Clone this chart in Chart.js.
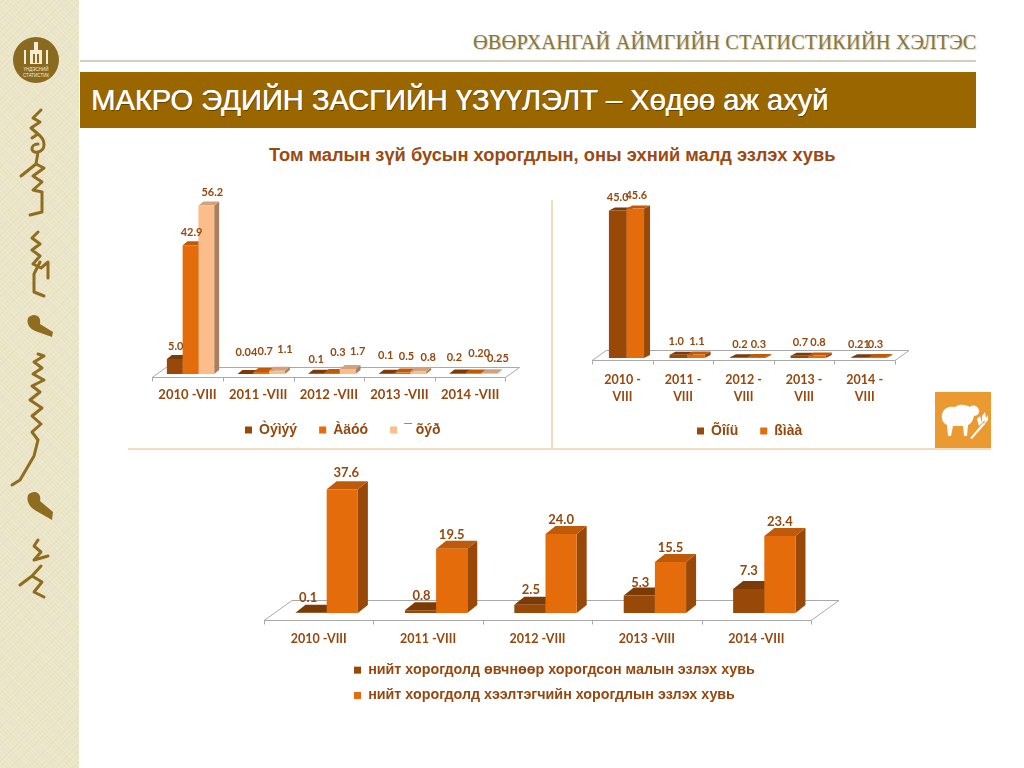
<!DOCTYPE html>
<html><head><meta charset="utf-8">
<script src="https://cdn.jsdelivr.net/npm/chart.js@4"></script>
<style>
html,body{margin:0;padding:0;background:#fff;width:1024px;height:768px;overflow:hidden;font-family:"Liberation Sans",Arial,sans-serif}
.abs{position:absolute}
#strip{left:0;top:0;width:79px;height:768px;background-color:#ebe5c8;
background-image:repeating-linear-gradient(45deg,rgba(255,255,255,.14) 0 1px,transparent 1px 3px),repeating-linear-gradient(-45deg,rgba(150,130,70,.05) 0 1px,transparent 1px 4px)}
#org{left:473px;top:31px;width:503px;font:20.3px "Liberation Serif",serif;color:#857644;white-space:nowrap;text-shadow:1px 1px 1px #cfc9ae;letter-spacing:.2px}
#rule{left:80px;top:60px;width:896px;height:2px;background:#d2cfbd}
#banner{left:80px;top:72px;width:896px;height:56px;background:#996600}
#banner span{position:absolute;left:11px;top:11px;font-size:29.1px;line-height:34px;color:#fff;white-space:nowrap;text-shadow:.5px 0 0 #fff,1px 1px 0 rgba(60,30,0,.6)}
#title{left:269px;top:144px;font-size:18.3px;line-height:22px;font-weight:bold;color:#9a4a12;white-space:nowrap}
#vsep{left:551px;top:200px;width:2px;height:248px;background:#f1dcc0}
#hsep{left:128px;top:448px;width:863px;height:2px;background:#f1dcc0}
#icon{left:935px;top:392px;width:56px;height:56px;background:#eb9a32}
canvas{position:absolute;display:block}
</style></head><body>
<div id="strip" class="abs"></div>
<svg class="abs" style="left:0;top:0" width="79" height="768">
<circle cx="36" cy="60" r="23" fill="#8a6a20"/>
<g fill="#f4ecd0"><rect x="30" y="50" width="12" height="14"/><rect x="34" y="42" width="4" height="8"/><rect x="24" y="50" width="2" height="14"/><rect x="46" y="50" width="2" height="14"/></g>
<g fill="#8a6a20"><rect x="33" y="54" width="2" height="9"/><rect x="37" y="54" width="2" height="9"/></g>
<text x="36" y="71" text-anchor="middle" font-family="Liberation Sans" font-size="4.5" fill="#f4ecd0">ҮНДЭСНИЙ</text>
<text x="36" y="77" text-anchor="middle" font-family="Liberation Sans" font-size="4.5" fill="#f4ecd0">СТАТИСТИК</text>
<g fill="none" stroke="#8f6d20" stroke-width="3" stroke-linecap="round" stroke-linejoin="round">
<path d="M41 110 L33 118 L40 122 L31 128 L38 134 L32 138 M38 134 C46 140 46 150 38 152 C30 154 30 144 38 144 M38 152 L36 164 L21 176 M36 164 L44 168 L33 176 L42 182 L33 190 L42 192 L42 212 L30 215"/>
<path d="M38 232 L32 238 L40 244 L32 250 L40 256 L33 264 L41 268 L48 262 L48 278 M40 262 L34 274 L34 292 L44 296"/>
<path d="M38 354 L44 356 L34 362 L42 368 L33 374 L44 380 L32 386 L40 392 L30 400 L42 408 L32 416 L41 424 L32 432 L38 440 L34 456 L20 480 L12 485"/>
<path d="M38 540 L34 546 L41 552 L34 560 L48 556 M41 566 L32 576 L20 585 M32 576 L42 582 L34 592 L44 597"/>
</g>
<g fill="#8f6d20">
<path d="M28 318 C34 312 42 316 40 324 L53 332 L52 337 L38 332 C30 330 26 324 28 318Z"/>
<path d="M28 495 C34 489 42 493 40 501 L53 512 L52 520 L38 512 C30 508 26 502 28 495Z"/>
</g></svg>
<div id="org" class="abs">ӨВӨРХАНГАЙ АЙМГИЙН СТАТИСТИКИЙН ХЭЛТЭС</div>
<div id="rule" class="abs"></div>
<div id="banner" class="abs"><span>МАКРО ЭДИЙН ЗАСГИЙН ҮЗҮҮЛЭЛТ – Хөдөө аж ахуй</span></div>
<div id="title" class="abs">Том малын зүй бусын хорогдлын, оны эхний малд эзлэх хувь</div>
<div id="vsep" class="abs"></div>
<div id="hsep" class="abs"></div>
<div id="icon" class="abs"><svg width="56" height="56">
<g fill="#fff"><path d="M7 22 C9 15 16 14 20 15 C25 11 32 13 35 15 C38 12 43 14 44 18 C45 21 42 24 39 24 C38 30 34 33 33 33 L32 44 L29 44 L28 34 L18 34 L16 44 L13 44 L12 33 C8 31 6 27 7 22Z"/>
<path d="M35 46 L48 31 L50 32 L37 47Z"/><path d="M44 34 L42 27 L45 24 L47 31Z"/><path d="M47 31 L47 24 L50 20 L51 27Z"/><path d="M49 33 L53 28 L53 23 L50 27Z"/></g></svg></div>
<canvas id="c1" style="left:130px;top:180px" width="400" height="266"></canvas>
<canvas id="c2" style="left:570px;top:180px" width="360" height="266"></canvas>
<canvas id="c3" style="left:250px;top:460px" width="600" height="250"></canvas>
<script>
// ---------- data ----------
const categories1 = ["2010 -VIII","2011 -VIII","2012 -VIII","2013 -VIII","2014 -VIII"];
const categories2 = [["2010 -","VIII"],["2011 -","VIII"],["2012 -","VIII"],["2013 -","VIII"],["2014 -","VIII"]];
const categories3 = ["2010 -VIII","2011 -VIII","2012 -VIII","2013 -VIII","2014 -VIII"];

const tem  = [5.0, 0.04, 0.1, 0.1, 0.2];
const adoo = [42.9, 0.7, 0.3, 0.5, 0.20];
const uher = [56.2, 1.1, 1.7, 0.8, 0.25];
const temText  = ["5.0","0.04","0.1","0.1","0.2"];
const adooText = ["42.9","0.7","0.3","0.5","0.20"];
const uherText = ["56.2","1.1","1.7","0.8","0.25"];

const honi  = [45.0, 1.0, 0.2, 0.7, 0.21];
const yamaa = [45.6, 1.1, 0.3, 0.8, 0.3];
const honiText  = ["45.0","1.0","0.2","0.7","0.21"];
const yamaaText = ["45.6","1.1","0.3","0.8","0.3"];

const disease = [0.1, 0.8, 2.5, 5.3, 7.3];
const predator = [37.6, 19.5, 24.0, 15.5, 23.4];
const diseaseText = ["0.1","0.8","2.5","5.3","7.3"];
const predatorText = ["37.6","19.5","24.0","15.5","23.4"];

const seriesNames1 = ["Òýìýý","Àäóó","¯ õýð"];
const seriesNames2 = ["Õîíü","ßìàà"];
const seriesNames3 = ["нийт хорогдолд өвчнөөр хорогдсон малын эзлэх хувь","нийт хорогдолд хээлтэгчийн хорогдлын эзлэх хувь"];

// ---------- styles ----------
const TEXT = "#94480f";
const DARK = {front:"#984807", side:"#6f3505", top:"#7c3b06"};
const ORNG = {front:"#e46c0a", side:"#984807", top:"#bf5a08"};
const PEACH = {front:"#fbbd8a", side:"#a88060", top:"#d2a27c"};

const bars3d = {
  id:"bars3d",
  beforeLayout(chart){
    const l = chart.legend; if(!l || l._patched) return;
    const fit = l.fit; l.fit = function(){ fit.call(this); this.height = 0; }; l._patched = true;
  },
  afterLayout(chart){
    const o = chart.options.plugins.bars3d, l = chart.legend;
    l.left = o.legendX; l.top = o.legendY; l.right = chart.width; l.bottom = chart.height;
  },
  beforeDatasetsDraw(chart){
    const o = chart.options.plugins.bars3d, ctx = chart.ctx, a = chart.chartArea, x = chart.scales.x;
    const s = o.shift, fy = a.bottom + o.floorFront, by = a.bottom - o.floorBack, step = x.getPixelForTick(1)-x.getPixelForTick(0);
    const L = a.left - s, R = a.right - s;
    ctx.save(); ctx.strokeStyle = "#a9a9a9"; ctx.lineWidth = 1;
    ctx.beginPath(); ctx.moveTo(L,fy+.5); ctx.lineTo(L+o.floorDx,by+.5); ctx.lineTo(R+o.floorDx,by+.5); ctx.lineTo(R,fy+.5); ctx.closePath();
    for(let i=0;i<=x.ticks.length;i++){ const t=Math.round(L+i*step)+.5; ctx.moveTo(t,fy+.5); ctx.lineTo(t,fy+4.5); }
    ctx.stroke();
    const dx=o.dx, dy=o.dy;
    const n = chart.data.datasets.length;
    chart.data.labels.forEach((_,i)=>{
      for(let d=0;d<n;d++){
        const bar = chart.getDatasetMeta(d).data[i], c = chart.data.datasets[d].face;
        const l=bar.x-bar.width/2, r=bar.x+bar.width/2, t=bar.y, b=bar.base;
        ctx.fillStyle=c.side; ctx.beginPath(); ctx.moveTo(r,t); ctx.lineTo(r+dx,t-dy); ctx.lineTo(r+dx,b-dy); ctx.lineTo(r,b); ctx.closePath(); ctx.fill();
        ctx.fillStyle=c.top; ctx.beginPath(); ctx.moveTo(l,t); ctx.lineTo(l+dx,t-dy); ctx.lineTo(r+dx,t-dy); ctx.lineTo(r,t); ctx.closePath(); ctx.fill();
      }
    });
    ctx.restore();
  },
  afterDatasetsDraw(chart){
    const o = chart.options.plugins.bars3d, ctx = chart.ctx;
    ctx.save(); ctx.font = o.labelFont; ctx.fillStyle = TEXT; ctx.textAlign="center"; ctx.textBaseline="middle";
    chart.data.datasets.forEach((ds,d)=>{
      chart.getDatasetMeta(d).data.forEach((bar,i)=>{
        const n = (o.nudge && o.nudge[d] && o.nudge[d][i]) || [0,0];
        ctx.fillText(ds.valueText[i], bar.x+n[0], bar.y-o.labelGap+n[1]);
      });
    });
    ctx.restore();
  }
};

function make(id, box, area, labels, datasets, maxV, extra){
  const xH = 50;
  new Chart(document.getElementById(id),{
    type:"bar",
    data:{labels, datasets:datasets.map(d=>({label:d.name,data:d.values,valueText:d.text,face:d.face,backgroundColor:d.face.front,borderWidth:0,
      barPercentage:1,categoryPercentage:extra.catPct}))},
    options:{
      responsive:false,animation:false,
      layout:{padding:{left:area.left-box.left,right:box.left+box.w-area.right,top:area.top-box.top,bottom:box.top+box.h-area.bottom-xH}},
      scales:{
        x:{grid:{display:false},border:{display:false},afterFit(s){s.height=xH;},
           ticks:{color:TEXT,font:{family:"Lato,'Open Sans',sans-serif",weight:"bold",size:extra.tickSize,lineHeight:1.4},autoSkip:false,maxRotation:0,minRotation:0,padding:extra.tickPad,labelOffset:-extra.shift}},
        y:{display:false,min:0,max:maxV}
      },
      plugins:{
        tooltip:{enabled:false},
        legend:{display:true,position:"bottom",align:"start",
          labels:{color:TEXT,boxWidth:7,boxHeight:7,padding:extra.legendPad,font:{family:"'Liberation Sans',Arial,sans-serif",weight:"bold",size:extra.legendSize}}},
        bars3d:{shift:extra.shift,floorFront:extra.floorFront,floorBack:extra.floorBack,floorDx:extra.floorDx,dx:extra.dx,dy:extra.dy,
          labelFont:extra.labelFont,labelGap:extra.labelGap,nudge:extra.nudge,legendX:extra.legendX,legendY:extra.legendY}
      }
    },
    plugins:[bars3d]
  });
}

make("c1",{left:130,top:180,w:400,h:266},{left:155.2,right:508.5,top:194,bottom:374},categories1,[
  {name:seriesNames1[0],values:tem,text:temText,face:DARK},
  {name:seriesNames1[1],values:adoo,text:adooText,face:ORNG},
  {name:seriesNames1[2],values:uher,text:uherText,face:PEACH}],60,
  {catPct:.67,tickSize:13,tickPad:4,shift:3,floorFront:3,floorBack:7,floorDx:14,dx:5,dy:4,
   labelFont:"bold 11px Lato,'Open Sans',sans-serif",labelGap:13,legendPad:22,legendSize:14,legendX:93,legendY:221,
   nudge:[[[1,0],[1,-8],[0,-1],[-1,-5],[-3,-3]],[[1,0],[4,-7],[6,-8],[4,-3],[6,-7]],[[6,0],[8,-8],[10,-4],[10,-1],[9,-2]]]});

make("c2",{left:570,top:180,w:360,h:266},{left:596.2,right:899,top:194,bottom:358},categories2,[
  {name:seriesNames2[0],values:honi,text:honiText,face:DARK},
  {name:seriesNames2[1],values:yamaa,text:yamaaText,face:ORNG}],50,
  {catPct:.58,tickSize:12.5,tickPad:5,shift:4,floorFront:2,floorBack:8,floorDx:14,dx:6,dy:3,
   labelFont:"bold 11px Lato,'Open Sans',sans-serif",labelGap:13,legendPad:22,legendSize:14,legendX:105,legendY:222,
   nudge:[[[0,0],[-2,0],[1,0],[1,0],[-1,0]],[[1,0],[1,0],[2,0],[1,0],[-2,0]]]});

make("c3",{left:250,top:460,w:600,h:250},{left:272,right:819,top:481.4,bottom:613},categories3,[
  {name:seriesNames3[0],values:disease,text:diseaseText,face:DARK},
  {name:seriesNames3[1],values:predator,text:predatorText,face:ORNG}],40,
  {catPct:.57,tickSize:12.5,tickPad:9,shift:8,floorFront:7,floorBack:13,floorDx:28,dx:10,dy:8,
   labelFont:"bold 13px Lato,'Open Sans',sans-serif",labelGap:16,legendPad:11,legendSize:14.3,legendX:93,legendY:192,
   nudge:[[[-3,1],[1,1],[1,1],[1,3],[0,-2]],[[4,0],[0,2],[0,2],[0,2],[0,2]]]});
</script>
</body></html>
